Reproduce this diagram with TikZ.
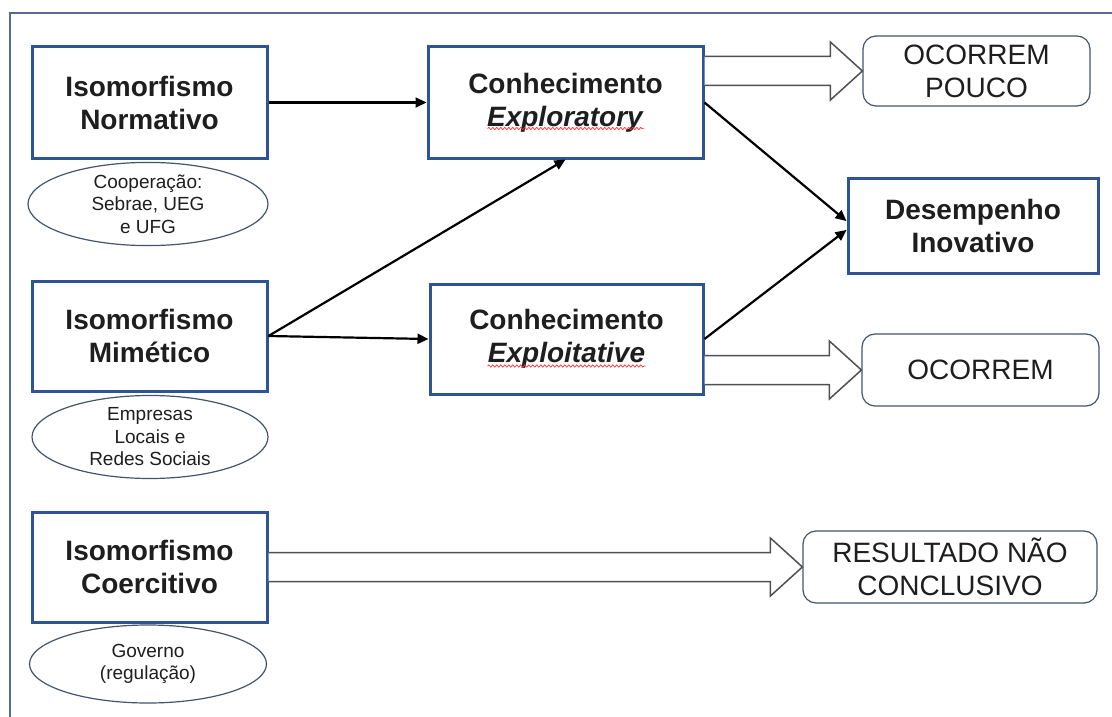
\documentclass[tikz,border=0pt]{standalone}
\usepackage{fontspec}
\setmainfont{Liberation Sans}
\usetikzlibrary{arrows.meta,decorations.pathmorphing,calc,shapes.geometric}
\definecolor{boxblue}{HTML}{2F5496}
\definecolor{frameblue}{HTML}{5B6B8C}
\definecolor{thinblue}{HTML}{44546A}
\definecolor{arrowgray}{HTML}{505050}
\definecolor{txtgray}{HTML}{1E1E1E}
\tikzset{
  mainbox/.style={draw=boxblue, line width=3pt, fill=white, inner sep=0pt, text=txtgray,
    align=center, font=\bfseries\fontsize{28}{33}\selectfont},
  outbox/.style={draw=thinblue, line width=1.2pt, rounded corners=13pt, fill=white, text=txtgray,
    inner sep=0pt, align=center, font=\fontsize{28}{33}\selectfont},
  ellbox/.style={ellipse, draw=thinblue, line width=1.2pt, fill=white, inner sep=0pt, text=txtgray,
    align=center, font=\fontsize{19}{22.5}\selectfont},
  thinarrow/.style={line width=2.2pt, -{Triangle[length=11pt,width=10pt]}},
  blockarrow/.style={draw=arrowgray, line width=1.5pt, fill=white, line join=miter},
  squiggle/.style={draw=red!80, line width=0.7pt,
    decorate, decoration={snake, amplitude=1.1pt, segment length=4pt}}
}
\newcommand{\blockarr}[2]{%
  \draw[blockarrow] let \p1=(#1.east), \p2=(#2.west) in
    (\x1,\y2+14.5pt) -- (\x2-32pt,\y2+14.5pt) -- (\x2-32pt,\y2+29pt) -- (\p2)
    -- (\x2-32pt,\y2-29pt) -- (\x2-32pt,\y2-14.5pt) -- (\x1,\y2-14.5pt);}
\begin{document}
\begin{tikzpicture}[x=1pt,y=-1pt]
\useasboundingbox (0,0) rectangle (1112,717);
\fill[white] (0,0) rectangle (1112,717);
% outer frame
\draw[frameblue, line width=1.5pt] (1120,13) -- (10,13) -- (10,725);

% left column
\node[mainbox, minimum width=235pt, minimum height=111pt] (norm) at (149.5,102.5) {Isomorfismo\\Normativo};
\node[ellbox, minimum width=240pt, minimum height=82pt] (ell1) at (148,204) {Cooperação:\\Sebrae, UEG\\e UFG};
\node[mainbox, minimum width=235pt, minimum height=110pt] (mim) at (149.5,336) {Isomorfismo\\Mimético};
\node[ellbox, minimum width=236pt, minimum height=83pt] (ell2) at (150,437) {Empresas\\Locais e\\Redes Sociais};
\node[mainbox, minimum width=235pt, minimum height=110pt] (coer) at (149.5,567) {Isomorfismo\\Coercitivo};
\node[ellbox, minimum width=237pt, minimum height=78pt] (ell3) at (148,664) {Governo\\(regulação)};

% middle column
\node[mainbox, minimum width=275pt, minimum height=111pt] (expl) at (565.5,102.5) {Conhecimento\\\textit{Exploratory}};
\node[mainbox, minimum width=273pt, minimum height=110pt] (expt) at (566.5,339) {Conhecimento\\\textit{Exploitative}};
\draw[squiggle] ($(expl.center)+(-78,26)$) -- ($(expl.center)+(78,26)$);
\draw[squiggle] ($(expt.center)+(-79,27)$) -- ($(expt.center)+(79,27)$);

% right column
\node[mainbox, minimum width=250pt, minimum height=95pt] (des) at (973,225.5) {Desempenho\\Inovativo};
\node[outbox, minimum width=227pt, minimum height=70pt] (ocp) at (976.5,71) {OCORREM\\POUCO};
\node[outbox, minimum width=237pt, minimum height=72pt] (oc) at (980.5,370) {OCORREM};
\node[outbox, minimum width=294pt, minimum height=72pt] (res) at (950,567) {RESULTADO NÃO\\CONCLUSIVO};

% thin arrows
\draw[thinarrow] (norm.east) -- (expl.west);
\draw[thinarrow] (mim.east) -- (expl.south);
\draw[thinarrow] (mim.east) -- (expt.west);
\draw[thinarrow] (expl.east) -- (des.178);
\draw[thinarrow] (expt.east) -- (des.182);

% block arrows
\blockarr{expl}{ocp}
\blockarr{expt}{oc}
\blockarr{coer}{res}
\end{tikzpicture}
\end{document}
